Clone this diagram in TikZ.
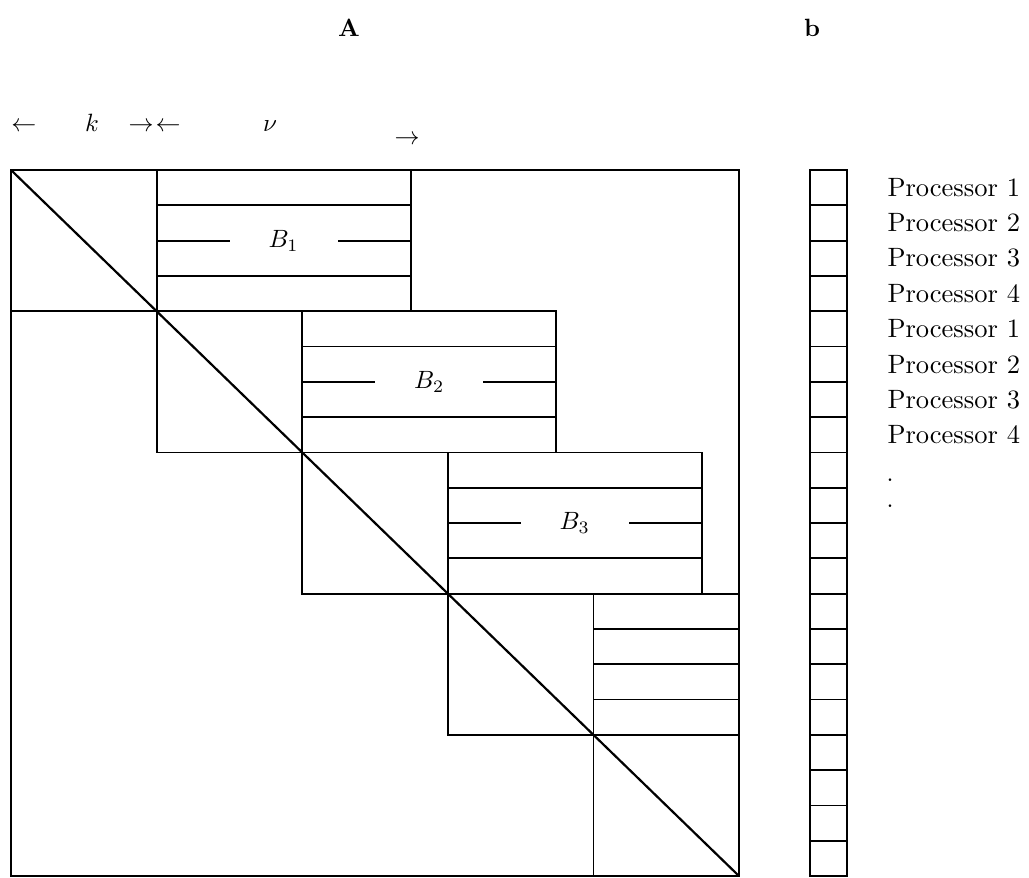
\documentclass[tikz,border=0pt]{standalone}
\usepackage{amsmath,amssymb}
\usepackage{xcolor}
\usepackage{tikz}
\usetikzlibrary{positioning,calc}

\tikzset{
  gridline/.style={line width=1.8pt},
  blocklabel/.style={fill=white, inner xsep=0pt, inner ysep=0.5pt, minimum width=43.2pt, scale=2.5, transform shape},
  proclabel/.style={anchor=west, inner sep=0pt, scale=2.65, transform shape},
  toplabel/.style={anchor=base, inner sep=0pt, scale=2.5, transform shape}
}

\begin{document}
\begin{tikzpicture}[x=1pt,y=-1pt]
    \useasboundingbox (0,0) rectangle (1029,878);

    % Titles
    \node[toplabel] (Atitle) at (349,36) {\textbf{A}};
    \node[toplabel] (btitle) at (812,36) {\textbf{b}};

    % Widths k and nu
    \node[toplabel] (kleft) at (24,131) {$\leftarrow$};
    \node[toplabel] (k) at (92,131) {$k$};
    \node[toplabel] (kright) at (141,131) {$\rightarrow$};
    \node[toplabel] (nuleft) at (168,131) {$\leftarrow$};
    \node[toplabel] (nu) at (270,131) {$\nu$};
    \node[toplabel] (nuright) at (407,144) {$\rightarrow$};

    % Matrix A with diagonal
    \draw[gridline] (11,170) coordinate (Atl) rectangle (739,876) coordinate (Abr);
    \draw[line width=2.2pt] (Atl) -- (Abr);

    % Diagonal blocks and bands B
    \foreach \i in {0,...,3} {
        \pgfmathsetmacro\xl{11+145.6*\i}
        \pgfmathsetmacro\xm{\xl+145.6}
        \pgfmathsetmacro\xr{min(\xm+254,739)}
        \pgfmathsetmacro\yt{170+141.2*\i}
        \pgfmathsetmacro\yb{\yt+141.2}
        \draw[gridline] (\xl,\yt) rectangle (\xr,\yb);
        \draw[gridline] (\xm,\yt) -- (\xm,\yb);
        \foreach \q in {1,2,3}
            \draw[gridline] (\xm,\yt+35.3*\q) -- (\xr,\yt+35.3*\q);
    }
    \draw[gridline] (593.4,734.8) rectangle (739,876);

    % Labels of the bands
    \foreach \n in {1,2,3}
        \node[blocklabel] (B\n) at (11+145.6*\n+127,170+141.2*\n-141.2+70.6) {$B_{\n}$};

    % Vector b
    \draw[gridline] (810,170) coordinate (btl) rectangle (847,876) coordinate (bbr);
    \foreach \j in {1,...,19}
        \draw[gridline] (810,170+35.3*\j) -- (847,170+35.3*\j);

    % Processors
    \foreach \j/\p in {0/1,1/2,2/3,3/4,4/1,5/2,6/3,7/4}
        \node[proclabel] (P\j) at (887,187.6+35.3*\j) {Processor \p};
    \node[toplabel] (dotA) at (890,481) {.};
    \node[toplabel] (dotB) at (890,507) {.};

\end{tikzpicture}
\end{document}
